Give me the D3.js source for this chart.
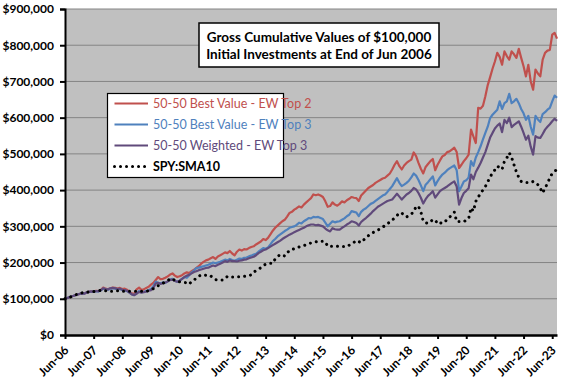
<!DOCTYPE html>
<html><head><meta charset="utf-8">
<script src="https://cdn.jsdelivr.net/npm/d3@7"></script>
<style>
html,body{margin:0;padding:0;background:#fff;}
svg{display:block;font-family:Lato,"Open Sans",sans-serif;}
</style></head>
<body>
<svg id="chart" width="576" height="385"></svg>
<script>
// ---- data (thousands of $, monthly from Jun-06 to Aug-23) ----
const tickLabels = ["Jun-06","Jun-07","Jun-08","Jun-09","Jun-10","Jun-11","Jun-12","Jun-13","Jun-14","Jun-15","Jun-16","Jun-17","Jun-18","Jun-19","Jun-20","Jun-21","Jun-22","Jun-23"];
const seriesNames = ["50-50 Best Value - EW Top 2","50-50 Best Value - EW Top 3","50-50 Weighted - EW Top 3","SPY:SMA10"];
const bestValueTop2 = [
100,102,104,107,109,112,113,115,114,117,119,121,
120,122,121,124,131,128,126,129,131,130,128,130,
127,128,125,119,115,113,126,131,124,126,130,133,
139,144,152,160,154,155,158,162,167,170,164,160,
162,165,170,173,171,176,180,185,190,197,202,206,
208,212,215,210,217,220,224,228,226,232,225,220,
230,236,233,237,236,240,243,245,250,254,258,265,
262,268,278,288,296,302,308,314,318,327,337,340,
346,350,355,352,360,366,372,378,388,386,388,385,
381,369,354,356,366,360,357,362,369,366,372,376,
381,379,378,370,385,392,399,406,410,414,420,424,
428,432,434,440,446,457,470,480,466,457,468,475,
480,484,504,494,475,459,446,464,472,480,486,455,
470,482,493,497,505,507,512,517,505,461,470,480,
488,498,567,548,530,627,625,633,659,690,712,735,
755,779,768,746,783,770,760,783,775,765,790,765,
742,714,746,700,677,733,722,714,760,779,785,787,
829,834,818];
const bestValueTop3 = [
100,102,105,107,109,111,113,115,114,117,119,120,
120,121,120,123,128,126,125,128,129,128,126,127,
124,123,121,117,112,110,115,121,118,119,121,124,
127,135,147,144,143,145,144,148,153,155,150,147,
150,155,160,158,165,173,178,185,186,188,190,192,
194,197,200,198,200,202,205,208,206,210,207,205,
208,211,210,213,214,217,219,222,224,230,235,240,
238,242,250,259,265,272,277,282,287,291,296,298,
300,304,310,308,314,318,323,322,326,325,326,323,
320,310,300,307,314,311,313,314,318,322,328,332,
342,340,338,328,340,346,350,356,362,365,370,375,
380,385,388,395,403,411,422,433,420,411,415,420,
426,435,446,440,428,413,397,415,422,430,438,413,
425,435,443,448,455,460,464,468,455,397,410,424,
427,435,480,467,490,505,521,540,558,575,599,608,
615,622,645,624,640,645,666,640,645,652,640,624,
612,594,605,575,553,605,595,588,610,615,622,627,
645,661,655];
const weightedTop3 = [
100,102,105,107,109,111,113,115,114,117,119,120,
120,121,121,124,129,127,126,129,130,129,127,128,
125,124,122,117,112,110,114,119,117,118,120,122,
124,130,142,144,141,143,145,148,152,153,149,147,
150,155,160,164,166,170,174,176,179,181,183,185,
186,189,192,190,194,197,200,204,202,206,204,204,
203,205,206,208,209,212,214,216,220,226,230,234,
236,240,244,248,252,256,260,265,269,273,277,280,
284,287,290,293,296,300,303,305,305,303,304,302,
300,294,289,286,295,292,291,291,296,300,305,309,
314,312,309,302,312,318,323,329,335,342,348,354,
358,362,366,370,372,374,382,390,382,374,381,388,
392,398,406,402,392,379,363,375,384,390,397,379,
388,397,402,406,410,415,420,424,410,360,378,392,
398,405,443,430,450,462,475,490,505,525,545,558,
570,578,584,560,594,585,600,574,580,585,590,575,
558,539,550,520,498,549,545,544,555,567,575,582,
590,597,591];
const spySma10 = [
100,102,104,107,110,112,114,116,118,118,119,120,
120,121,122,123,124,122,120,121,121,122,122,122,
121,121,121,121,121,121,121,121,121,121,121,122,
124,128,132,136,139,143,147,151,154,156,150,148,
147,146,145,144,140,148,151,158,162,166,166,165,
166,163,158,153,152,152,152,155,162,160,160,160,
161,161,162,162,163,164,166,173,178,181,186,192,
195,197,198,198,210,216,222,220,218,226,234,236,
238,241,243,245,247,249,252,254,256,257,259,259,
259,257,245,245,245,245,245,244,244,244,244,248,
252,256,261,258,255,262,268,274,280,283,286,290,
293,298,302,308,311,317,323,330,337,337,330,326,
329,334,340,355,355,340,314,310,308,313,318,318,
307,310,308,313,318,325,332,339,313,313,313,313,
317,321,351,342,369,380,392,400,410,423,436,448,
456,466,462,457,480,489,503,490,470,450,435,424,
421,421,421,421,424,420,415,405,392,406,418,434,
446,452,457];
const seriesValues = [bestValueTop2, bestValueTop3, weightedTop3, spySma10];
const seriesColors = ["#C0504D","#4F81BD","#604A7B","#000000"];

// ---- layout ----
const svg = d3.select("#chart");
const L = 65, R = 557, T = 9, B = 335;
const n = bestValueTop2.length;
const x = d3.scaleLinear().domain([0, n - 1]).range([L, R]);
const y = d3.scaleLinear().domain([0, 900000]).range([B, T]);

svg.append("rect").attr("x", L).attr("y", T).attr("width", R - L).attr("height", B - T).attr("fill", "#C0C0C0");

// gridlines
const yTicks = d3.range(0, 900001, 100000);
svg.append("g").selectAll("line").data(yTicks.filter(d => d > 0)).join("line")
  .attr("x1", L).attr("x2", R).attr("y1", d => y(d)).attr("y2", d => y(d))
  .attr("stroke", "#848484").attr("stroke-width", 1);

// lines
const dotStyle = sel => sel.attr("stroke-width", 3).attr("stroke-linecap", "round").attr("stroke-dasharray", "0.01,6");
const line = d3.line().x((d, i) => x(i)).y(d => y(d * 1000));
seriesValues.forEach((vals, k) => {
  const p = svg.append("path").datum(vals).attr("d", line).attr("fill", "none")
    .attr("stroke", seriesColors[k]).attr("stroke-linejoin", "round");
  if (k === 3) p.call(dotStyle);
  else p.attr("stroke-width", 2.2);
});

// axes
const yAxis = d3.axisLeft(y).tickValues(yTicks).tickFormat(d3.format("$,")).tickSize(5).tickPadding(6);
const gy = svg.append("g").attr("transform", `translate(${L},0)`).call(yAxis);
gy.select(".domain").attr("stroke", "#000").attr("stroke-width", 2);
gy.selectAll(".tick line").attr("stroke", "#000").attr("stroke-width", 2);
gy.selectAll("text").attr("font-size", 12).attr("font-weight", "bold").attr("fill", "#000").attr("font-family", "Lato");

const xTicks = d3.range(0, n, 12);
const xAxis = d3.axisBottom(x).tickValues(xTicks).tickFormat((d, i) => tickLabels[i]).tickSize(4).tickSizeOuter(0);
const gx = svg.append("g").attr("transform", `translate(0,${B})`).call(xAxis);
gx.select(".domain").attr("stroke", "#000").attr("stroke-width", 2.5);
gx.selectAll(".tick line").attr("stroke", "#000").attr("stroke-width", 2);
gx.selectAll("text").attr("font-size", 12).attr("font-weight", "bold").attr("fill", "#000").attr("font-family", "Lato")
  .attr("text-anchor", "end").attr("dy", null).attr("y", 0)
  .attr("transform", "translate(4,16) rotate(-45)");

// title box
const tb = svg.append("g");
tb.append("rect").attr("x", 199).attr("y", 23).attr("width", 240).attr("height", 44).attr("fill", "#fff").attr("stroke", "#000").attr("stroke-width", 1.5);
tb.append("text").attr("x", 319).attr("y", 42).attr("text-anchor", "middle").attr("font-size", 13.5).attr("font-weight", "bold").text("Gross Cumulative Values of $100,000");
tb.append("text").attr("x", 319).attr("y", 59).attr("text-anchor", "middle").attr("font-size", 13.5).attr("font-weight", "bold").text("Initial Investments at End of Jun 2006");

// legend
const lg = svg.append("g");
lg.append("rect").attr("x", 107.5).attr("y", 93.5).attr("width", 176).attr("height", 84).attr("fill", "#fff").attr("stroke", "#000").attr("stroke-width", 1.2);
const rowsY = [103.5, 124.5, 145.5, 166.5];
seriesNames.forEach((name, k) => {
  const ln = lg.append("line").attr("x1", 114.5).attr("x2", 148).attr("y1", rowsY[k]).attr("y2", rowsY[k]).attr("stroke", seriesColors[k]);
  if (k === 3) ln.call(dotStyle);
  else ln.attr("stroke-width", 2.2);
  lg.append("text").attr("x", 153).attr("y", rowsY[k] + 4.5).attr("font-size", 12.5)
    .attr("font-weight", k === 3 ? "bold" : "normal")
    .attr("fill", seriesColors[k]).text(name);
});
</script>
</body></html>
